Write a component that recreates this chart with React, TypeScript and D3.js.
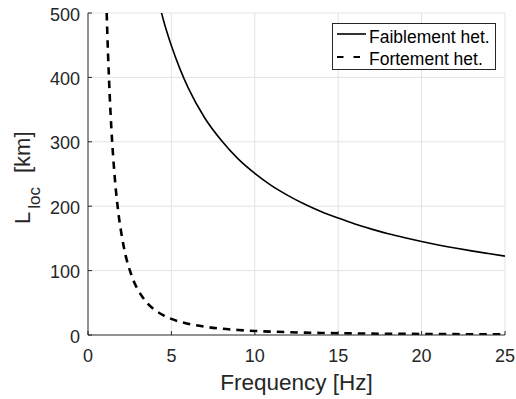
import React from "react";
import * as d3 from "d3";

const xTicks = [0, 5, 10, 15, 20, 25];
const yTicks = [0, 100, 200, 300, 400, 500];

const weakFreq = [4.4, 4.5, 5, 5.5, 6, 7, 8, 9, 10, 11, 12, 13, 14, 15, 16, 17, 18, 19, 20, 21, 22, 23, 24, 25];
const weakL = [501, 491, 449, 414, 384, 337, 302, 273.5, 251, 232, 216.5, 203, 191.4, 181.5, 172.3, 164.4, 157.2, 150.9, 145.1, 139.8, 135, 130.6, 126.5, 122.5];

const strongFreq = [1.12, 1.2, 1.3, 1.4, 1.5, 1.6, 1.8, 2, 2.25, 2.5, 2.75, 3, 3.5, 4, 4.5, 5, 6, 7, 8, 9, 10, 12, 14, 16, 18, 20, 22, 25];
const strongL = [500, 437, 373, 321, 280, 246, 194, 158, 124, 101, 83, 70, 51, 39, 31, 25, 17.5, 12.9, 9.8, 7.8, 6.3, 4.4, 3.2, 2.5, 1.9, 1.6, 1.3, 1.0];

const legendLabels = ["Faiblement het.", "Fortement het."];

const W = 516, H = 399;
const L = 88, R = 505, T = 13, B = 335;
const FONT = "'Liberation Sans', Arial, Helvetica, sans-serif";

export default function App() {
  const x = d3.scaleLinear().domain([0, 25]).range([L, R]);
  const y = d3.scaleLinear().domain([0, 500]).range([B, T]);
  const line = d3.line<[number, number]>().x(d => x(d[0])).y(d => y(d[1])).curve(d3.curveMonotoneX);
  const weak = weakFreq.map((f, i) => [f, weakL[i]] as [number, number]);
  const strong = strongFreq.map((f, i) => [f, strongL[i]] as [number, number]);
  const axisColor = "#262626";
  return (
    <svg width={W} height={H} style={{ position: "absolute", left: 0, top: 0, background: "#fff" }} fontFamily={FONT}>
      <defs>
        <clipPath id="plot"><rect x={L} y={T} width={R - L} height={B - T} /></clipPath>
      </defs>
      {xTicks.slice(1).map(t => (
        <line key={"gx" + t} x1={x(t)} x2={x(t)} y1={T} y2={B} stroke="#e3e3e3" strokeWidth={1} />
      ))}
      {yTicks.slice(1).map(t => (
        <line key={"gy" + t} x1={L} x2={R} y1={y(t)} y2={y(t)} stroke="#e3e3e3" strokeWidth={1} />
      ))}
      <g clipPath="url(#plot)">
        <path d={line(weak) || ""} fill="none" stroke="#000" strokeWidth={1.6} />
        <path d={line(strong) || ""} fill="none" stroke="#000" strokeWidth={2.6} strokeDasharray="7.5,6" />
      </g>
      <line x1={L} x2={L} y1={T} y2={B} stroke={axisColor} strokeWidth={1} />
      <line x1={L} x2={R} y1={B} y2={B} stroke={axisColor} strokeWidth={1} />
      {xTicks.map(t => (
        <g key={"xt" + t}>
          <line x1={x(t)} x2={x(t)} y1={B} y2={B - 4} stroke={axisColor} />
          <text x={x(t)} y={362} textAnchor="middle" fontSize={18} fill={axisColor}>{t}</text>
        </g>
      ))}
      {yTicks.map(t => (
        <g key={"yt" + t}>
          <line x1={L} x2={L + 4} y1={y(t)} y2={y(t)} stroke={axisColor} />
          <text x={80} y={y(t) + 7.5} textAnchor="end" fontSize={18} fill={axisColor}>{t}</text>
        </g>
      ))}
      <text x={296.5} y={390} textAnchor="middle" fontSize={22.5} fill={axisColor}>Frequency [Hz]</text>
      <text transform="translate(29.5,224) rotate(-90)" textAnchor="start" fontSize={22} fill={axisColor}>
        L<tspan fontSize={17} dx={3} dy={10}>loc</tspan><tspan dx={14} dy={-10}>[km]</tspan>
      </text>
      <g>
        <rect x={332.5} y={23.5} width={163} height={46} fill="#fff" stroke={axisColor} strokeWidth={1} />
        <line x1={337} x2={366} y1={34} y2={34} stroke="#000" strokeWidth={1.6} />
        <line x1={337} x2={361} y1={57} y2={57} stroke="#000" strokeWidth={2} strokeDasharray="6.5,10" />
        <text x={369} y={42.5} fontSize={17.5} fill="#000">{legendLabels[0]}</text>
        <text x={369} y={65} fontSize={17.5} fill="#000">{legendLabels[1]}</text>
      </g>
    </svg>
  );
}
